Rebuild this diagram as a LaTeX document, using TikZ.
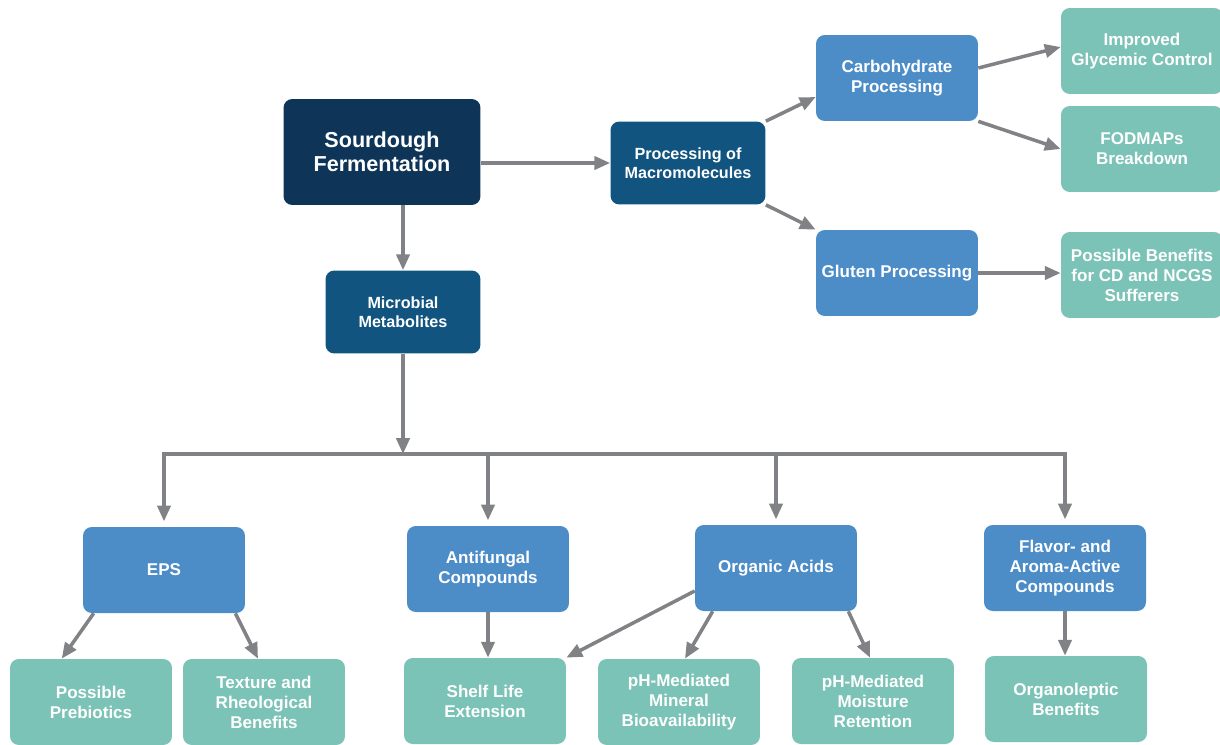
\documentclass[tikz,border=0pt]{standalone}
\usepackage{fontspec}
\setmainfont{Liberation Sans}
\usetikzlibrary{calc,arrows.meta}

\definecolor{navy}{RGB}{14,53,88}
\definecolor{deepblue}{RGB}{17,84,128}
\definecolor{midblue}{RGB}{76,141,200}
\definecolor{leafteal}{RGB}{123,194,183}
\definecolor{arrowgray}{RGB}{128,130,133}

\begin{document}
\begin{tikzpicture}[x=0.02cm,y=-0.02cm,
        box/.style={rounded corners=5pt, align=center, text=white, inner sep=1pt,
            font=\bfseries\fontsize{9.7}{11.4}\selectfont},
        topbox/.style={box, fill=navy, minimum width=3.94cm, minimum height=2.12cm,
            font=\bfseries\fontsize{12.3}{13.8}\selectfont},
        midbox/.style={box, fill=deepblue, minimum width=3.1cm, minimum height=1.66cm,
            font=\bfseries\fontsize{9.2}{11}\selectfont},
        catbox/.style={box, fill=midblue, minimum width=3.24cm, minimum height=1.72cm},
        leafbox/.style={box, fill=leafteal, minimum width=3.24cm, minimum height=1.72cm},
        arr/.style={-{Triangle[length=9pt,width=7.5pt]}, draw=arrowgray, fill=arrowgray, line width=2pt},
        bar/.style={draw=arrowgray, line width=2pt, line cap=rect}]
                \useasboundingbox (0,0) rectangle (1220,744);

                % upper part
                \node[topbox] (sf) at (382,152) {Sourdough\\Fermentation};
                \node[midbox] (pm) at (688,163) {Processing of\\Macromolecules};
                \node[midbox] (mm) at (403,312) {Microbial\\Metabolites};
                \node[catbox] (cp) at (897,78) {Carbohydrate\\Processing};
                \node[catbox] (gp) at (897,273) {Gluten Processing};
                \node[leafbox] (ig) at (1142,51) {Improved\\Glycemic Control};
                \node[leafbox] (fb) at (1142,149) {FODMAPs\\Breakdown};
                \node[leafbox] (pb) at (1142,275) {Possible Benefits\\for CD and NCGS\\Sufferers};

                % metabolites
                \node[catbox] (eps) at (164,570) {EPS};
                \node[catbox] (af) at (488,569) {Antifungal\\Compounds};
                \node[catbox] (oa) at (776,568) {Organic Acids};
                \node[catbox] (fa) at (1065,568) {Flavor- and\\Aroma-Active\\Compounds};

                \node[leafbox] (pp) at (91,702) {Possible\\Prebiotics};
                \node[leafbox] (tr) at (264,702) {Texture and\\Rheological\\Benefits};
                \node[leafbox] (sl) at (485,701) {Shelf Life\\Extension};
                \node[leafbox] (mb) at (679,702) {pH-Mediated\\Mineral\\Bioavailability};
                \node[leafbox] (mr) at (873,701) {pH-Mediated\\Moisture\\Retention};
                \node[leafbox] (ob) at (1066,699) {Organoleptic\\Benefits};

                \coordinate (bus) at (403,454);

                \draw[arr] (sf.east |- pm.west) -- (pm.west);
                \draw[arr] (sf.south -| mm.north) -- (mm.north);
                \draw[arr] (pm.north east) -- ([yshift=-0.38cm]cp.west);
                \draw[arr] (pm.south east) -- (gp.north west);
                \draw[arr] ([yshift=0.2cm]cp.east) -- ([yshift=0.08cm]ig.west);
                \draw[arr] (cp.south east) -- (fb.west);
                \draw[arr] (gp.east) -- (pb.west |- gp.east);

                \draw[arr] (mm.south) -- (bus);
                \draw[bar] (eps.north |- bus) -- (fa.north |- bus);
                \foreach \n in {eps,af,oa,fa}
                    {
                        \draw[arr, shorten >=3pt] (\n.north |- bus) -- (\n.north);
                    }

                \draw[arr] ([xshift=0.22cm]eps.south west) -- ($(pp.north west)!0.32!(pp.north east)$);
                \draw[arr] ([xshift=-0.2cm]eps.south east) -- ([xshift=-0.12cm]tr.north);
                \draw[arr] (af.south) -- (af.south |- sl.north);
                \draw[arr] ([yshift=-0.46cm]oa.west) -- (sl.north east);
                \draw[arr] ([xshift=0.36cm]oa.south west) -- ([xshift=0.12cm]mb.north);
                \draw[arr] ([xshift=-0.18cm]oa.south east) -- ([xshift=-0.06cm]mr.north);
                \draw[arr] (fa.south) -- (fa.south |- ob.north);
            \end{tikzpicture}
\end{document}
